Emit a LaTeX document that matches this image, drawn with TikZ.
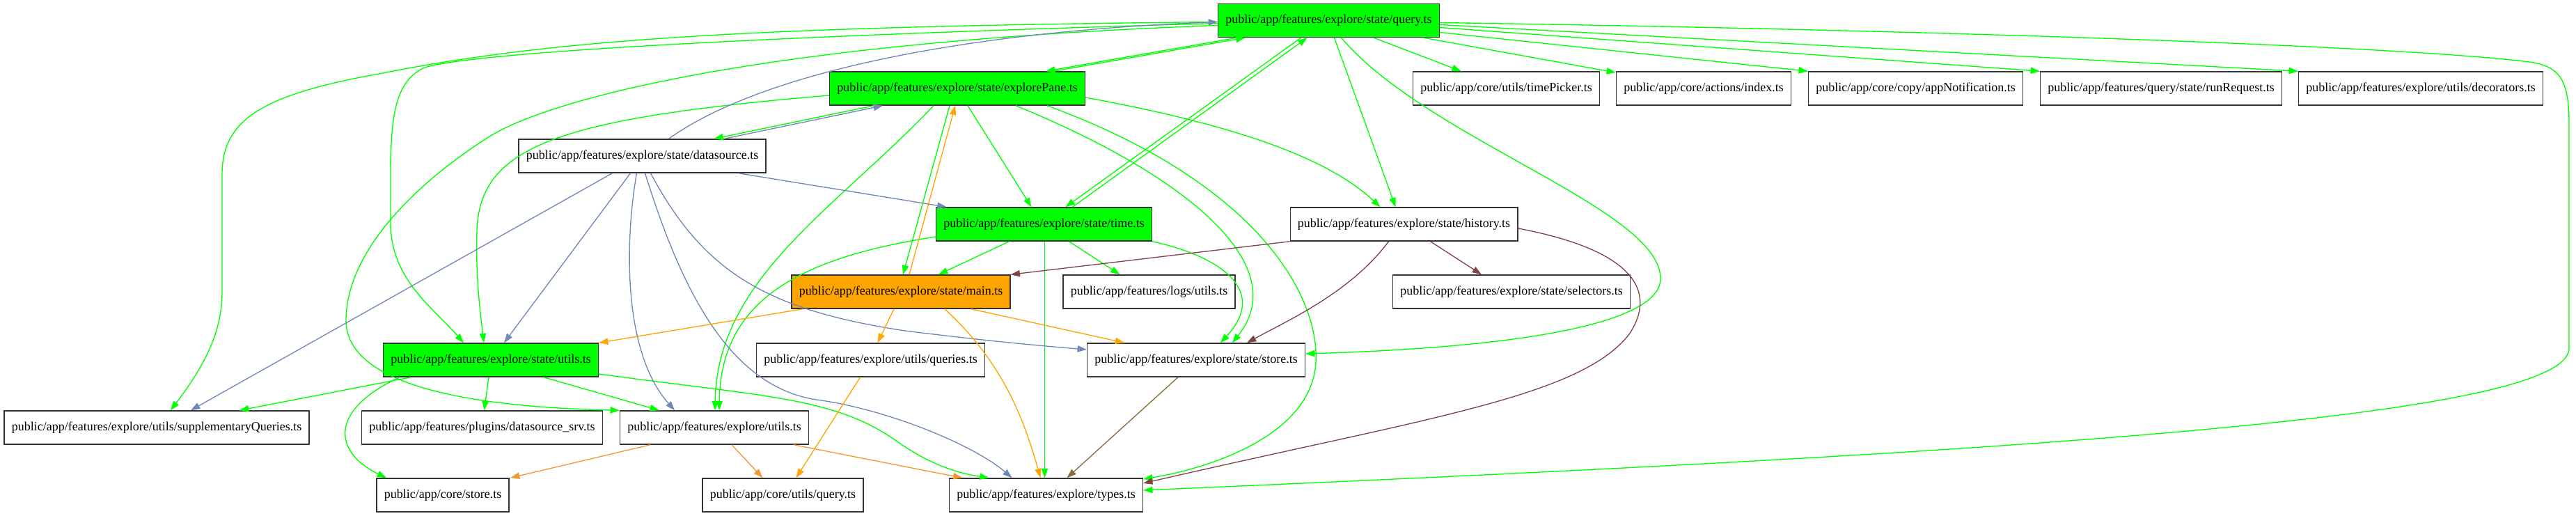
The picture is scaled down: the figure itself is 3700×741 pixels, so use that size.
\documentclass[tikz,border=0pt]{standalone}
\usepackage{fontspec}
\setmainfont{Liberation Serif}
\usetikzlibrary{arrows.meta}
\definecolor{edgegreen}{HTML}{00FF00}
\definecolor{edgeblue}{HTML}{7088B8}
\definecolor{edgeorange}{HTML}{FFA500}
\definecolor{edgeamber}{HTML}{EE9A2E}
\definecolor{edgebrown}{HTML}{7F4545}
\definecolor{edgeolive}{HTML}{8B6A3A}
\definecolor{boxline}{HTML}{333333}
\tikzset{
	file/.style={draw=boxline,line width=1.1pt,rectangle,minimum height=36pt,inner xsep=8pt,font=\fontsize{13.5pt}{16pt}\selectfont},
	active/.style={fill=edgegreen},
	entry/.style={fill=edgeorange},
	dep/.style={line width=1pt,-{Triangle[length=10pt,width=7pt]}},
	gdep/.style={dep,edgegreen},
	bdep/.style={dep,edgeblue},
	odep/.style={dep,edgeorange},
	adep/.style={dep,edgeamber},
	rdep/.style={dep,edgebrown},
	ldep/.style={dep,edgeolive}
}

\begin{document}
\begin{tikzpicture}[x=0.75pt,y=-0.75pt]
	\useasboundingbox (0,0) rectangle (3700,741);
	% files
	\node[file,active] (query) at (1908.5,29.5) {public/app/features/explore/state/query.ts};
	\node[file,active] (explorePane) at (1375,127) {public/app/features/explore/state/explorePane.ts};
	\node[file] (timePicker) at (2163.5,127) {public/app/core/utils/timePicker.ts};
	\node[file] (actions) at (2447,127) {public/app/core/actions/index.ts};
	\node[file] (appNotification) at (2751.5,127) {public/app/core/copy/appNotification.ts};
	\node[file] (runRequest) at (3104,127) {public/app/features/query/state/runRequest.ts};
	\node[file] (decorators) at (3477,127) {public/app/features/explore/utils/decorators.ts};
	\node[file] (datasource) at (922.5,224) {public/app/features/explore/state/datasource.ts};
	\node[file,active] (time) at (1499.5,322) {public/app/features/explore/state/time.ts};
	\node[file] (history) at (2016.5,322) {public/app/features/explore/state/history.ts};
	\node[file,entry] (main) at (1294,419) {public/app/features/explore/state/main.ts};
	\node[file] (logs) at (1650.5,419) {public/app/features/logs/utils.ts};
	\node[file] (selectors) at (2171,419) {public/app/features/explore/state/selectors.ts};
	\node[file,active] (stateUtils) at (705,517) {public/app/features/explore/state/utils.ts};
	\node[file] (queries) at (1250.5,517) {public/app/features/explore/utils/queries.ts};
	\node[file] (store) at (1718,517) {public/app/features/explore/state/store.ts};
	\node[file] (supplementary) at (225,614) {public/app/features/explore/utils/supplementaryQueries.ts};
	\node[file] (datasourceSrv) at (692.5,614) {public/app/features/plugins/datasource\_srv.ts};
	\node[file] (exploreUtils) at (1026,614) {public/app/features/explore/utils.ts};
	\node[file] (coreStore) at (636,711) {public/app/core/store.ts};
	\node[file] (coreQuery) at (1124.5,711) {public/app/core/utils/query.ts};
	\node[file] (types) at (1502.5,711) {public/app/features/explore/types.ts};

	% query.ts
	\draw[gdep] (query) -- (timePicker);
	\draw[gdep] (query) -- (actions);
	\draw[gdep] ([shift={(0,17)}]query.east) -- (appNotification.north west);
	\draw[gdep] ([shift={(0,10)}]query.east) -- (runRequest.north west);
	\draw[gdep] ([shift={(0,6)}]query.east) -- (decorators.north west);
	\draw[gdep] ([shift={(0,3)}]query.east) .. controls (2900,45) and (3500,70) .. (3640,90) .. controls (3680,98) and (3690,120) .. (3690,180) -- (3690,500) .. controls (3690,600) and (2900,650) .. ([shift={(0,-7)}]types.east);
	\draw[gdep] ([shift={(8,0)}]query.south) -- ([shift={(-12,0)}]history.north);
	\draw[gdep] ([shift={(18,0)}]query.south) .. controls (2050,200) and (2385,300) .. (2385,400) .. controls (2385,470) and (2150,500) .. ([shift={(0,-9)}]store.east);
	\draw[gdep] ([shift={(-132,0)}]query.south) -- ([shift={(127,0)}]explorePane.north);
	\draw[gdep] ([shift={(-40,0)}]query.south) -- ([shift={(31,0)}]time.north);
	\draw[gdep] ([shift={(0,2)}]query.west) .. controls (1100,38) and (800,55) .. (550,105) .. controls (380,135) and (319,170) .. (319,250) -- (319,420) .. controls (319,480) and (290,530) .. ([shift={(20,0)}]supplementary.north);
	\draw[gdep] ([shift={(0,4)}]query.west) .. controls (1100,52) and (680,75) .. (610,97) .. controls (570,115) and (561,160) .. (561,250) -- (561,320) .. controls (561,400) and (620,440) .. ([shift={(-39,0)}]stateUtils.north);
	\draw[gdep] ([shift={(0,7)}]query.west) .. controls (1100,60) and (800,140) .. (708,193) .. controls (600,260) and (497,360) .. (497,460) .. controls (497,560) and (700,585) .. (exploreUtils.north west);

	% explorePane.ts
	\draw[gdep] ([shift={(138,0)}]explorePane.north) -- ([shift={(-120,0)}]query.south);
	\draw[gdep] ([shift={(-120,0)}]explorePane.south) -- ([shift={(103,0)}]datasource.north);
	\draw[gdep] ([shift={(15,0)}]explorePane.south) -- ([shift={(-18,0)}]time.north);
	\draw[gdep] ([shift={(-11,0)}]explorePane.south) -- ([shift={(3,0)}]main.north);
	\draw[gdep] ([shift={(0,13)}]explorePane.east) .. controls (1750,175) and (1900,220) .. ([shift={(-34,0)}]history.north);
	\draw[gdep] ([shift={(84,0)}]explorePane.south) .. controls (1700,250) and (1860,380) .. ([shift={(52,0)}]store.north);
	\draw[gdep] ([shift={(129,0)}]explorePane.south) .. controls (1800,260) and (1895,420) .. (1890,520) .. controls (1885,620) and (1750,670) .. ([shift={(0,-23)}]types.east);
	\draw[gdep] ([shift={(0,10)}]explorePane.west) .. controls (800,170) and (690,210) .. (685,330) .. controls (683,400) and (690,450) .. ([shift={(-10,0)}]stateUtils.north);
	\draw[gdep] ([shift={(-34,0)}]explorePane.south) .. controls (1200,300) and (1030,400) .. ([shift={(1,0)}]exploreUtils.north);

	% time.ts
	\draw[gdep] ([shift={(41,0)}]time.north) -- ([shift={(-31,0)}]query.south);
	\draw[gdep] ([shift={(0,18)}]time.west) .. controls (1150,370) and (1035,430) .. ([shift={(7,0)}]exploreUtils.north);
	\draw[gdep] ([shift={(-50,0)}]time.south) -- ([shift={(54,0)}]main.north);
	\draw[gdep] ([shift={(36,0)}]time.south) -- ([shift={(-42,0)}]logs.north);
	\draw[gdep] ([shift={(1,0)}]time.south) -- ([shift={(-2,0)}]types.north);
	\draw[gdep] (time.south east) .. controls (1760,370) and (1820,420) .. ([shift={(35,0)}]store.north);

	% state/utils.ts
	\draw[gdep] ([shift={(-115,0)}]stateUtils.south) -- ([shift={(119,0)}]supplementary.north);
	\draw[gdep] ([shift={(-3,0)}]stateUtils.south) -- ([shift={(3,0)}]datasourceSrv.north);
	\draw[gdep] ([shift={(76,0)}]stateUtils.south) -- ([shift={(-79,0)}]exploreUtils.north);
	\draw[gdep] ([shift={(-131,0)}]stateUtils.south) .. controls (470,590) and (480,650) .. ([shift={(-81,0)}]coreStore.north);
	\draw[gdep] ([shift={(0,20)}]stateUtils.east) .. controls (1100,570) and (1200,570) .. (1290,635) .. controls (1340,670) and (1380,680) .. ([shift={(-82,0)}]types.north);

	% datasource.ts
	\draw[bdep] ([shift={(38,0)}]datasource.north) .. controls (1100,100) and (1400,45) .. ([shift={(0,2)}]query.west);
	\draw[bdep] ([shift={(118,0)}]datasource.north) -- ([shift={(-107,0)}]explorePane.south);
	\draw[bdep] ([shift={(138,0)}]datasource.south) -- ([shift={(-140,0)}]time.north);
	\draw[bdep] ([shift={(-43,0)}]datasource.south) -- ([shift={(49,0)}]supplementary.north);
	\draw[bdep] ([shift={(-17,0)}]datasource.south) -- ([shift={(19,0)}]stateUtils.north);
	\draw[bdep] ([shift={(-8,0)}]datasource.south) .. controls (900,330) and (890,500) .. ([shift={(-57,0)}]exploreUtils.north);
	\draw[bdep] ([shift={(4,0)}]datasource.south) .. controls (980,420) and (1050,560) .. (1180,575) .. controls (1280,590) and (1400,640) .. ([shift={(-49,0)}]types.north);
	\draw[bdep] ([shift={(12,0)}]datasource.south) .. controls (1010,390) and (1100,445) .. (1300,475) .. controls (1420,490) and (1500,497) .. ([shift={(0,-15)}]store.west);

	% main.ts
	\draw[odep] ([shift={(12,0)}]main.north) -- ([shift={(-3,0)}]explorePane.south);
	\draw[odep] ([shift={(-141,0)}]main.south) -- (stateUtils.north east);
	\draw[odep] ([shift={(-10,0)}]main.south) -- ([shift={(10,0)}]queries.north);
	\draw[odep] ([shift={(101,0)}]main.south) -- ([shift={(-103,0)}]store.north);
	\draw[odep] ([shift={(63,0)}]main.south) .. controls (1440,520) and (1470,600) .. ([shift={(-8,0)}]types.north);
	\draw[odep] ([shift={(-15,0)}]queries.south) -- ([shift={(19,0)}]coreQuery.north);

	% explore/utils.ts
	\draw[adep] ([shift={(25,0)}]exploreUtils.south) -- ([shift={(-29,0)}]coreQuery.north);
	\draw[adep] ([shift={(114,0)}]exploreUtils.south) -- ([shift={(-120,0)}]types.north);
	\draw[adep] ([shift={(-92,0)}]exploreUtils.south) -- ([shift={(97,0)}]coreStore.north);

	% history.ts and store.ts
	\draw[rdep] (history.south west) -- (main.north east);
	\draw[rdep] ([shift={(38,0)}]history.south) -- ([shift={(-43,0)}]selectors.north);
	\draw[rdep] ([shift={(-22,0)}]history.south) .. controls (1940,420) and (1850,460) .. ([shift={(73,0)}]store.north);
	\draw[rdep] ([shift={(0,6)}]history.east) .. controls (2350,360) and (2380,420) .. (2340,480) .. controls (2270,570) and (2050,600) .. ([shift={(0,-17)}]types.east);
	\draw[ldep] ([shift={(-26,0)}]store.south) -- ([shift={(30,0)}]types.north);
\end{tikzpicture}
\end{document}
